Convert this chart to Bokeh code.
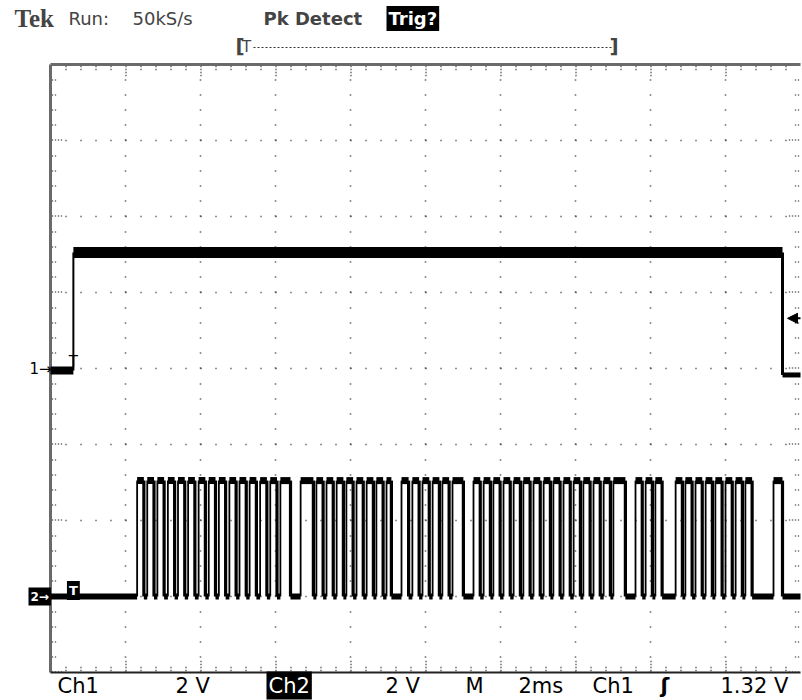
import numpy as np
from bokeh.plotting import figure
from bokeh.models import Label, Range1d, Arrow, NormalHead
from bokeh.embed import file_html
from bokeh.resources import INLINE

# ---------------- scope settings ----------------
time_per_div_ms = 2.0
volts_per_div = 2.0
n_xdiv = 10
n_ydiv = 8
ch1_offset_div = 0.0
ch2_offset_div = -3.0
trigger_level_v = 1.32

# ---------------- Ch1 waveform (ms, V) ----------------
ch1_rise_ms = 0.61
ch1_fall_ms = 19.52
ch1_low_before_v = -0.05
ch1_high_v = 3.05
ch1_low_after_v = -0.17

# ---------------- Ch2 waveform edges (ms) ----------------
ch2_rise_ms = [2.31, 2.58, 2.85, 3.13, 3.40, 3.67, 3.95, 4.22, 4.49, 4.77, 5.04, 5.31, 5.59, 5.86, 6.13,
               6.67, 7.09, 7.36, 7.63, 7.89, 8.16, 8.43, 8.69, 8.96,
               9.36, 9.65, 9.92, 10.19, 10.45, 10.72,
               11.28, 11.55, 11.81, 12.08, 12.35, 12.61, 12.88, 13.15, 13.41, 13.68, 13.95, 14.21, 14.48, 14.75, 15.01,
               15.60, 15.87, 16.13,
               16.67, 16.93, 17.20, 17.47, 17.73, 18.00, 18.27, 18.53,
               19.28]
ch2_fall_ms = [2.49, 2.76, 3.03, 3.31, 3.58, 3.85, 4.13, 4.40, 4.67, 4.95, 5.22, 5.49, 5.77, 6.04, 6.40,
               7.01, 7.27, 7.54, 7.81, 8.07, 8.34, 8.61, 8.87, 9.09,
               9.55, 9.83, 10.10, 10.37, 10.63, 11.01,
               11.46, 11.73, 11.99, 12.26, 12.53, 12.79, 13.06, 13.33, 13.59, 13.86, 14.13, 14.39, 14.66, 14.93, 15.33,
               15.78, 16.05, 16.31,
               16.85, 17.11, 17.38, 17.65, 17.91, 18.18, 18.45, 18.71,
               19.52]
ch2_high_v = 3.05
ch2_low_v = 0.0

# ---------------- texts ----------------
header_texts = ["Tek", "Run:", "50kS/s", "Pk Detect", "Trig?"]
footer_texts = ["Ch1", "2 V", "Ch2", "2 V", "M", "2ms", "Ch1", "ʃ", "1.32 V"]

# ---------------- geometry of the screen picture ----------------
W, H = 802, 700
GX0, GY0 = 50, 368           # picture px of t=0 and of the centre line
PX_PER_DIV_X, PX_PER_DIV_Y = 75.0, 76.0
BASE_SHIFT = 7               # correction for alphabetic label baselines

def px(xp):   # picture x px -> ms
    return (xp - GX0) / PX_PER_DIV_X * time_per_div_ms

def py(yp):   # picture y px -> divisions
    return (GY0 - yp) / PX_PER_DIV_Y

def pyb(yp):  # baseline position for alphabetic labels
    return py(yp - BASE_SHIFT)

def dx(n):
    return n / PX_PER_DIV_X * time_per_div_ms

def dy(n):
    return n / PX_PER_DIV_Y

def vdiv(v, off):
    return v / volts_per_div + off

t_end = time_per_div_ms * n_xdiv
ytop, ybot = n_ydiv / 2, -n_ydiv / 2

p = figure(width=W, height=H, x_range=Range1d(px(0), px(W)), y_range=Range1d(py(H), py(0)),
           x_axis_type=None, y_axis_type=None, tools="", toolbar_location=None,
           output_backend="svg", min_border=0, min_border_left=0, min_border_right=0,
           min_border_top=0, min_border_bottom=0, outline_line_color=None,
           background_fill_color="white", border_fill_color="white")

# ---------------- graticule ----------------
GRID_C = "#222222"
xmaj = [time_per_div_ms * i for i in range(1, n_xdiv)]
ymaj = [float(i) for i in range(-n_ydiv // 2 + 1, n_ydiv // 2)]
p.multi_line(xs=[[x, x] for x in xmaj], ys=[[ybot, ytop]] * len(xmaj), line_color=GRID_C,
             line_width=1.6, line_dash="1 14 1 14 1 14 1 14 1 15")
p.multi_line(xs=[[0, t_end]] * len(ymaj), ys=[[y, y] for y in ymaj], line_color=GRID_C,
             line_width=1.6, line_dash="1 14")

# edge tick marks (minor: double dots every 1/5 div, major: longer)
for off in (dy(2), dy(5)):
    p.line([0, t_end], [ytop - off, ytop - off], line_color=GRID_C, line_width=1.3, line_dash="1 14")
    p.line([0, t_end], [ybot + off, ybot + off], line_color=GRID_C, line_width=1.3, line_dash="1 14")
for off in (dy(8), dy(11)):
    p.line([0, t_end], [ytop - off, ytop - off], line_color=GRID_C, line_width=1.3, line_dash="1 74")
    p.line([0, t_end], [ybot + off, ybot + off], line_color=GRID_C, line_width=1.3, line_dash="1 74")
for off in (dx(2), dx(5)):
    p.line([off, off], [ybot, ytop], line_color=GRID_C, line_width=1.3,
           line_dash="1 14 1 14 1 14 1 14 1 15")
    p.line([t_end - off, t_end - off], [ybot, ytop], line_color=GRID_C, line_width=1.3,
           line_dash="1 14 1 14 1 14 1 14 1 15")
for off in (dx(8), dx(11)):
    p.line([off, off], [ybot, ytop], line_color=GRID_C, line_width=1.3, line_dash="1 75")
    p.line([t_end - off, t_end - off], [ybot, ytop], line_color=GRID_C, line_width=1.3, line_dash="1 75")

# frame border (top / left grey, bottom dark)
p.line([0, t_end], [ytop, ytop], line_color="#6a6a6a", line_width=3)
p.line([0, 0], [ybot, ytop], line_color="#6a6a6a", line_width=3)
p.line([0, t_end], [ybot, ybot], line_color="#222222", line_width=2)

# ---------------- Ch1 trace ----------------
c1_lo0 = vdiv(ch1_low_before_v, ch1_offset_div)
c1_hi = vdiv(ch1_high_v, ch1_offset_div)
c1_lo1 = vdiv(ch1_low_after_v, ch1_offset_div)
p.segment(x0=[0], x1=[ch1_rise_ms], y0=[c1_lo0], y1=[c1_lo0], line_color="black", line_width=8)
p.segment(x0=[ch1_rise_ms], x1=[ch1_fall_ms], y0=[c1_hi], y1=[c1_hi], line_color="black", line_width=11)
p.segment(x0=[ch1_fall_ms], x1=[t_end], y0=[c1_lo1], y1=[c1_lo1], line_color="black", line_width=5)
p.segment(x0=[ch1_rise_ms], x1=[ch1_rise_ms], y0=[c1_lo0], y1=[c1_hi], line_color="black", line_width=2)
p.segment(x0=[ch1_fall_ms], x1=[ch1_fall_ms], y0=[c1_hi], y1=[c1_lo1], line_color="black", line_width=3)

# ---------------- Ch2 trace ----------------
hi = vdiv(ch2_high_v, ch2_offset_div)
lo = vdiv(ch2_low_v, ch2_offset_div)
n2 = len(ch2_rise_ms)
low_start = [0] + ch2_fall_ms
low_end = ch2_rise_ms + [t_end]
p.segment(x0=low_start, x1=low_end, y0=[lo] * (n2 + 1), y1=[lo] * (n2 + 1),
          line_color="black", line_width=6)
p.segment(x0=ch2_rise_ms, x1=ch2_fall_ms, y0=[hi] * n2, y1=[hi] * n2,
          line_color="black", line_width=7)
p.segment(x0=ch2_rise_ms, x1=ch2_rise_ms, y0=[lo] * n2, y1=[hi] * n2,
          line_color="black", line_width=1.8)
p.segment(x0=ch2_fall_ms, x1=ch2_fall_ms, y0=[hi] * n2, y1=[lo] * n2,
          line_color="black", line_width=3.2)

# ---------------- markers ----------------
FONT = "DejaVu Sans"
p.add_layout(Label(x=px(29), y=ch1_offset_div, text="1→", text_font=FONT, text_font_size="15px",
                   text_baseline="middle", text_color="black"))
p.add_layout(Label(x=px(28), y=ch2_offset_div, text="2→", text_font=FONT, text_font_size="12px",
                   text_font_style="bold", text_baseline="middle", text_color="white",
                   background_fill_color="black", padding=2))
# trigger position markers
p.add_layout(Label(x=ch1_rise_ms, y=pyb(368), text="T", text_font=FONT, text_font_size="15px",
                   text_align="center", text_baseline="alphabetic", text_color="black"))
p.add_layout(Label(x=ch1_rise_ms, y=pyb(597), text="T", text_font=FONT, text_font_size="13px",
                   text_font_style="bold", text_align="center", text_baseline="alphabetic",
                   text_color="white", background_fill_color="black", padding=2))
# trigger level marker (right edge)
lvl = vdiv(trigger_level_v, ch1_offset_div)
p.add_layout(Arrow(end=NormalHead(size=10, fill_color="black", line_color="black"),
                   x_start=t_end, y_start=lvl, x_end=t_end - dx(13), y_end=lvl,
                   line_color="black", line_width=2))

# ---------------- header ----------------
base_top = pyb(25)
p.add_layout(Label(x=px(14), y=base_top, text=header_texts[0], text_font="Liberation Serif",
                   text_font_size="25px", text_font_style="bold", text_baseline="alphabetic"))
p.add_layout(Label(x=px(68), y=base_top, text=header_texts[1], text_font=FONT,
                   text_font_size="18px", text_baseline="alphabetic"))
p.add_layout(Label(x=px(132), y=base_top, text=header_texts[2], text_font=FONT,
                   text_font_size="18px", text_baseline="alphabetic"))
p.add_layout(Label(x=px(263), y=base_top, text=header_texts[3], text_font=FONT,
                   text_font_size="18px", text_font_style="bold", text_baseline="alphabetic"))
p.add_layout(Label(x=px(386), y=base_top, text=header_texts[4], text_font=FONT,
                   text_font_size="18px", text_font_style="bold", text_baseline="alphabetic",
                   text_color="white", background_fill_color="black", padding=2))
# record-position bracket
p.add_layout(Label(x=px(235), y=pyb(52), text="[", text_font=FONT, text_font_size="20px",
                   text_font_style="bold", text_baseline="alphabetic"))
p.add_layout(Label(x=px(246), y=pyb(53), text="T", text_font=FONT, text_font_size="15px",
                   text_align="center", text_baseline="alphabetic"))
p.line([px(253), px(611)], [py(47), py(47)], line_color="#333333", line_width=1.2, line_dash="2 2")
p.add_layout(Label(x=px(609), y=pyb(52), text="]", text_font=FONT, text_font_size="20px",
                   text_font_style="bold", text_baseline="alphabetic"))

# ---------------- footer ----------------
base_bot = pyb(692)
foot_x = [57, 175, 266, 385, 465, 518, 592, 660, 720]
for i, (t, xp) in enumerate(zip(footer_texts, foot_x)):
    kw = dict(x=px(xp), y=base_bot, text=t, text_font=FONT, text_font_size="21px",
              text_baseline="alphabetic", text_color="black")
    if i == 2:
        kw.update(text_color="white", background_fill_color="black", padding=2)
    if t == "ʃ":
        kw.update(text_font_style="bold")
    p.add_layout(Label(**kw))

open("out.html", "w").write(file_html(p, INLINE))
